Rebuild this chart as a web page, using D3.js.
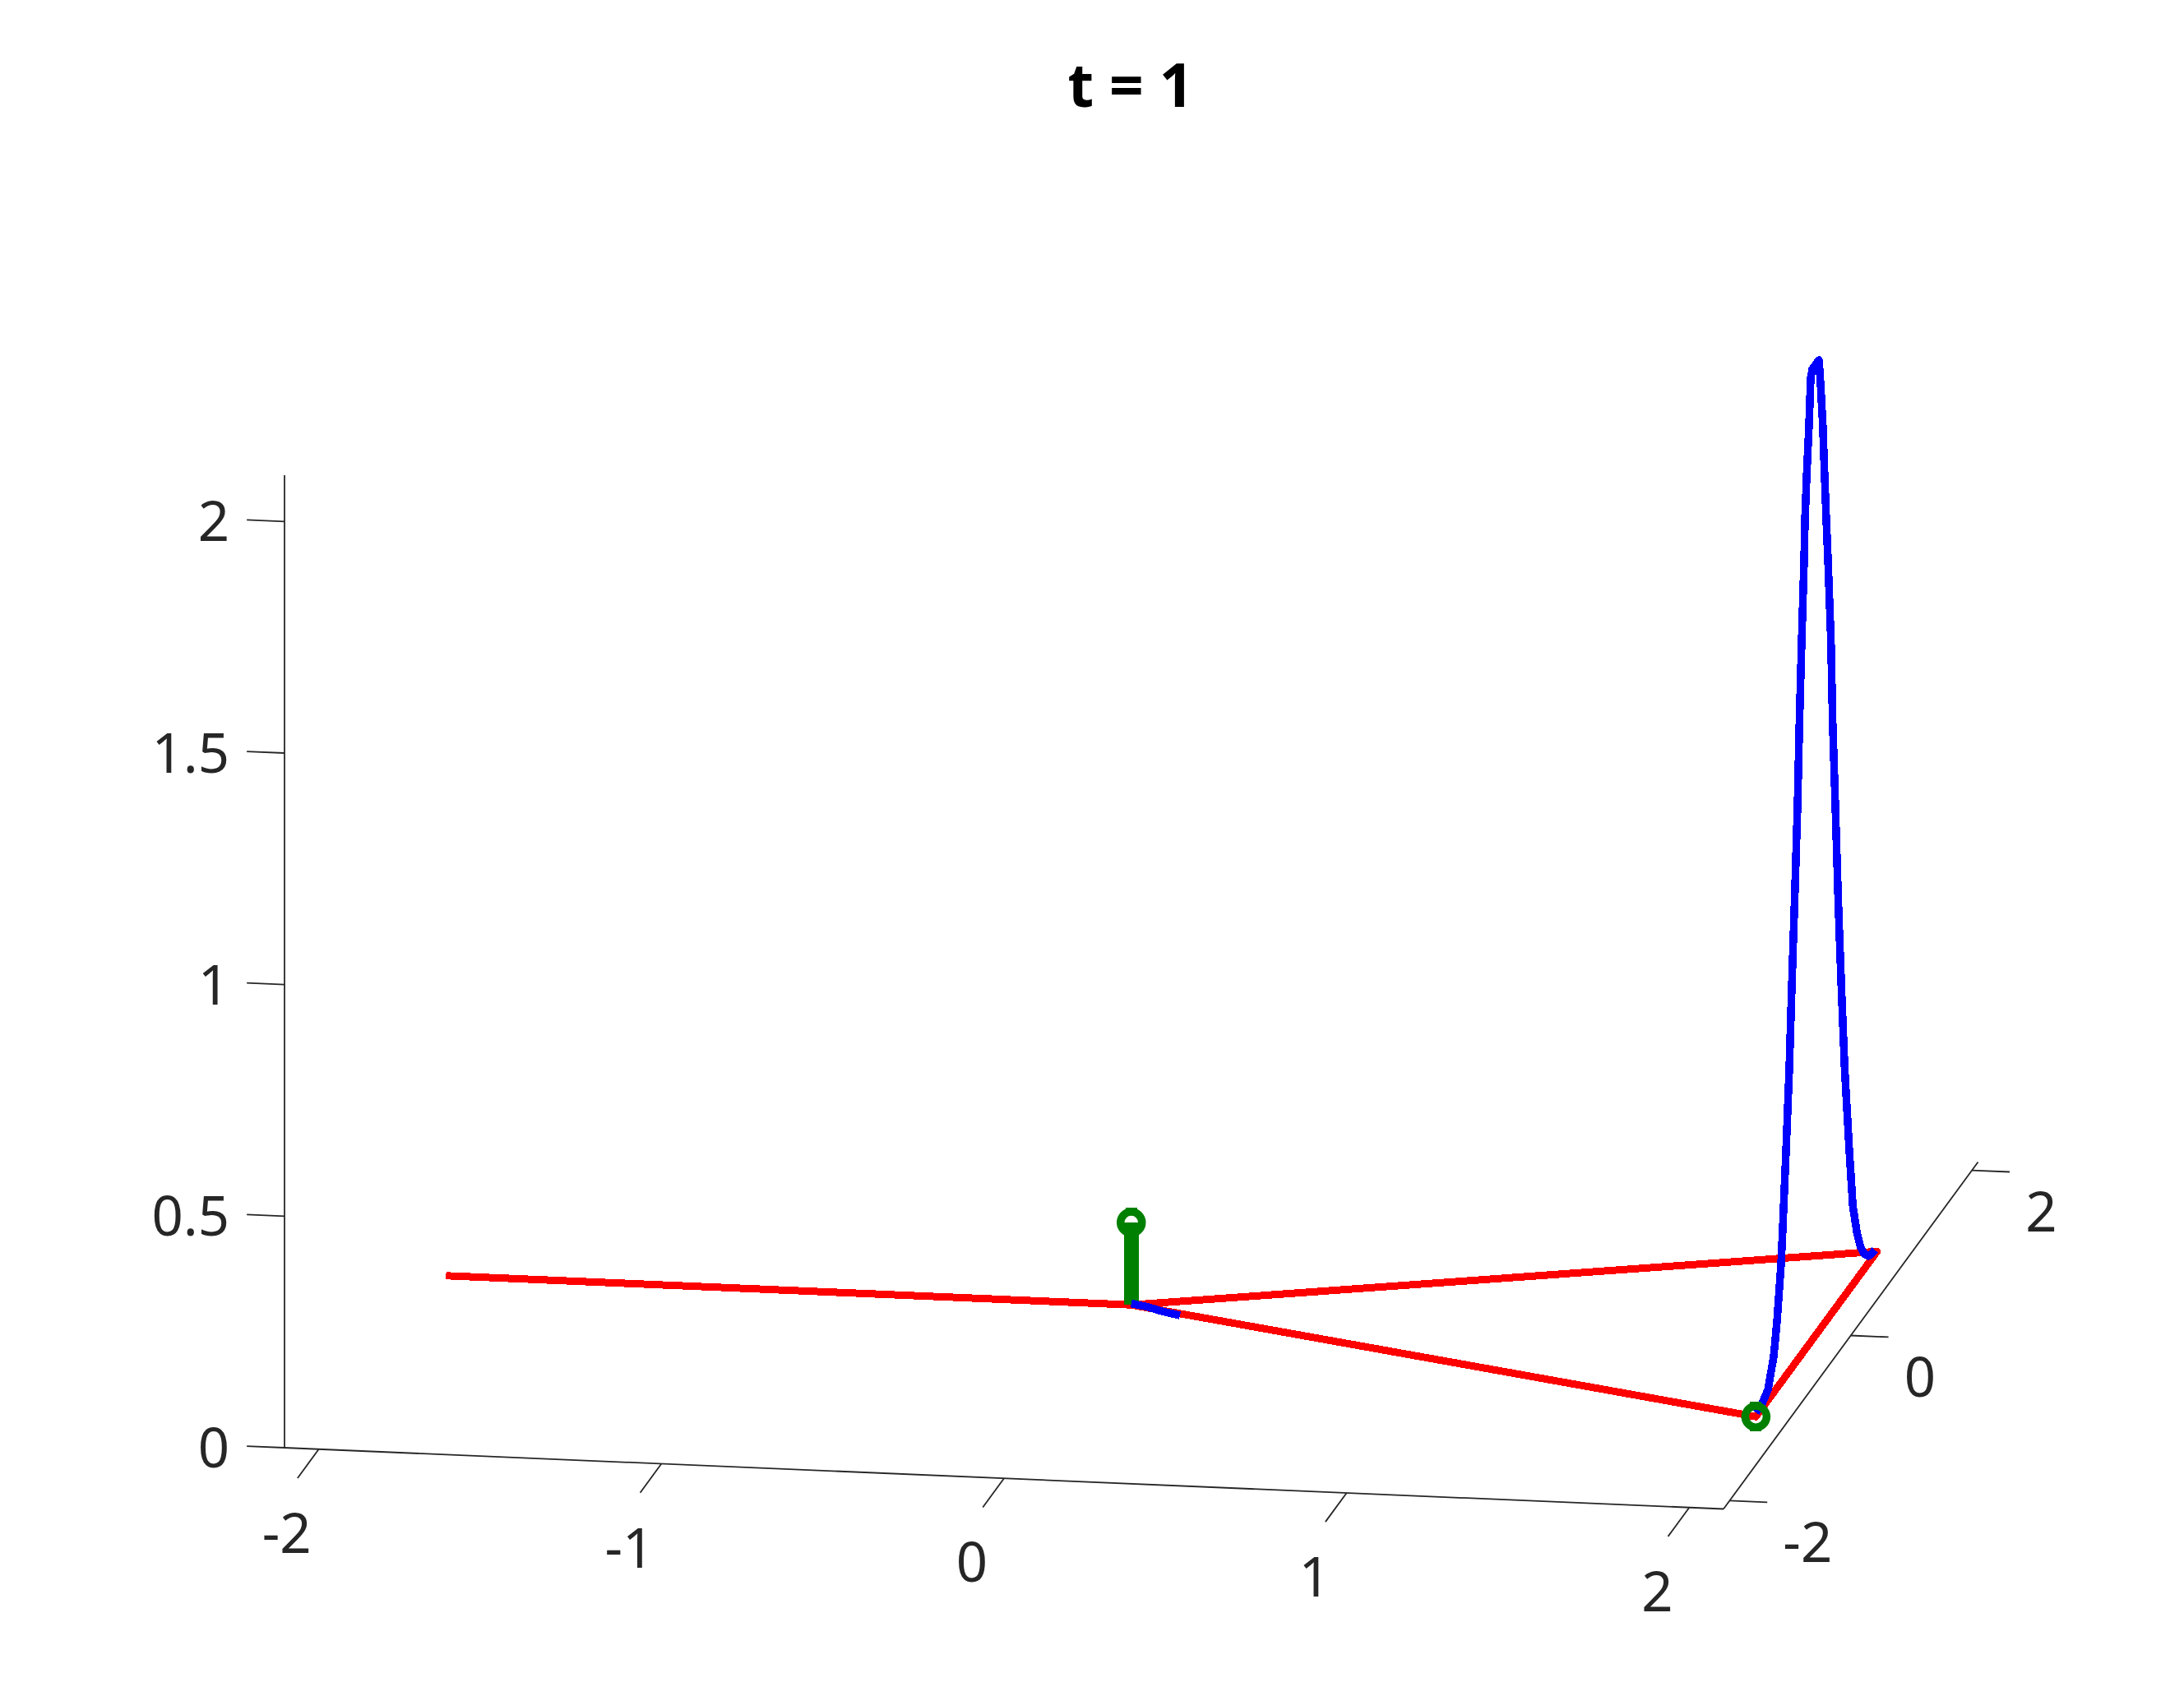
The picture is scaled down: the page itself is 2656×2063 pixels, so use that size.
<!DOCTYPE html>
<html>
<head>
<meta charset="utf-8">
<script src="https://cdn.jsdelivr.net/npm/d3@7"></script>
<style>
	html, body { margin: 0; padding: 0; background: #fff; }
	svg { display: block; }
	text { font-family: "Noto Sans", sans-serif; fill: #262626; }
</style>
</head>
<body>
<main></main>
<script>
// Data
const titleText = "t = 1";
const axisLimit = [-2.1, 2.1];
const zLimit = [0, 2.1];
const xTicks = [-2, -1, 0, 1, 2];
const yTicks = [-2, 0, 2];
const zTicks = [0, 0.5, 1, 1.5, 2];

// graph edges, each as [x, y] to [x, y]
const graphEdges = [
	[[-2, 0], [0, 0]],
	[[0, 0], [2, 1]],
	[[2, 1], [2, -1]],
	[[2, -1], [0, 0]],
];

// green stems at the nodes [x, y, height]
const stems = [[0, 0, 0.178], [2, -1, 0]];

// blue wave on the edge x = 2
const waveY = [-1, -0.896, -0.801, -0.706, -0.652, -0.584, -0.561, -0.503, -0.449, -0.408, -0.363, -0.313, -0.282, -0.245, -0.204, -0.191, -0.159, -0.123, -0.096, -0.069, 0.04, 0.067, 0.104, 0.131, 0.162, 0.189, 0.239, 0.267, 0.311, 0.359, 0.41, 0.465, 0.542, 0.6, 0.668, 0.728, 0.787, 0.855, 0.909, 0.963];
const waveZ = [0.009, 0.01, 0.023, 0.078, 0.144, 0.256, 0.318, 0.485, 0.653, 0.823, 0.993, 1.197, 1.369, 1.54, 1.71, 1.791, 1.892, 1.985, 2.081, 2.096, 2.096, 2.04, 1.944, 1.84, 1.728, 1.64, 1.453, 1.271, 1.085, 0.869, 0.677, 0.49, 0.298, 0.169, 0.099, 0.058, 0.033, 0.016, 0.011, 0.01];

// small part of the wave on the edge from the centre to (2, -1)
const tailX = [0, 0.05, 0.1, 0.156];
const tailY = [0, -0.025, -0.05, -0.078];
const tailZ = [0.003, 0.002, -0.002, -0.004];

// Create dimensions
const dimensions = { width: 2656, height: 2063, originX: 346, originY: 1761 };

// Draw canvas
const svg = d3.select("main")
	.append("svg")
		.attr("width", dimensions.width)
		.attr("height", dimensions.height);

// Create scales: each data axis moves the point across and up the screen
const xAcross = d3.scaleLinear().domain(axisLimit).range([0, 1750]);
const xDown = d3.scaleLinear().domain(axisLimit).range([0, 74.5]);
const yAcross = d3.scaleLinear().domain(axisLimit).range([0, 309.5]);
const yDown = d3.scaleLinear().domain(axisLimit).range([0, -422]);
const zDown = d3.scaleLinear().domain(zLimit).range([0, -1183]);

const project = (x, y, z) => [
	dimensions.originX + xAcross(x) + yAcross(y),
	dimensions.originY + xDown(x) + yDown(y) + zDown(z),
];

const line3d = d3.line().x(d => project(...d)[0]).y(d => project(...d)[1]);

// Draw peripherals
const [lo, hi] = axisLimit;
const axes = svg.append("g").attr("fill", "none").attr("stroke", "#262626").attr("stroke-width", 1.8);

const frame = [
	[[lo, lo, zLimit[0]], [lo, lo, zLimit[1]]],
	[[lo, lo, 0], [hi, lo, 0]],
	[[hi, lo, 0], [hi, hi, 0]],
];
const xTickLines = xTicks.map(t => [[t, lo, 0], [t, lo - 0.35, 0]]);
const yTickLines = yTicks.map(t => [[hi, t, 0], [hi + 0.11, t, 0]]);
const zTickLines = zTicks.map(t => [[lo, lo, t], [lo - 0.11, lo, t]]);

axes.selectAll("path")
	.data([...frame, ...xTickLines, ...yTickLines, ...zTickLines])
	.enter()
	.append("path")
	.attr("d", line3d);

const labelSize = 67;

svg.append("g").selectAll("text")
	.data(xTicks)
	.enter()
	.append("text")
	.attr("x", d => project(d, lo, 0)[0] - 39)
	.attr("y", d => project(d, lo, 0)[1] + 102)
	.attr("dy", "0.36em")
	.attr("text-anchor", "middle")
	.attr("font-size", labelSize)
	.text(d => d);

svg.append("g").selectAll("text")
	.data(yTicks)
	.enter()
	.append("text")
	.attr("x", d => project(hi, d, 0)[0] + 65)
	.attr("y", d => project(hi, d, 0)[1] + 50)
	.attr("dy", "0.36em")
	.attr("text-anchor", "start")
	.attr("font-size", labelSize)
	.text(d => d);

svg.append("g").selectAll("text")
	.data(zTicks)
	.enter()
	.append("text")
	.attr("x", 279)
	.attr("y", d => project(lo, lo, d)[1])
	.attr("dy", "0.36em")
	.attr("text-anchor", "end")
	.attr("font-size", labelSize)
	.text(d => d);

svg.append("text")
	.attr("x", 1375)
	.attr("y", 104)
	.attr("dy", "0.36em")
	.attr("text-anchor", "middle")
	.attr("font-size", 73)
	.attr("font-weight", "bold")
	.style("fill", "#000")
	.text(titleText);

// Draw data
const marks = svg.append("g").attr("fill", "none").attr("shape-rendering", "crispEdges");

marks.selectAll(".edge")
	.data(graphEdges.map(edge => edge.map(d => [d[0], d[1], 0])))
	.enter()
	.append("path")
	.attr("class", "edge")
	.attr("d", line3d)
	.attr("stroke", "#f00")
	.attr("stroke-width", 9)
	.attr("stroke-linecap", (d, i) => i === 0 ? "butt" : "round");

marks.selectAll(".stem")
	.data(stems.filter(d => d[2] > 0))
	.enter()
	.append("path")
	.attr("class", "stem")
	.attr("d", d => line3d([[d[0], d[1], 0], [d[0], d[1], d[2]]]))
	.attr("stroke", "#008000")
	.attr("stroke-width", 18);

const wavePoints = waveY.map((y, i) => [2, y, waveZ[i]]);
const tailPoints = tailX.map((x, i) => [x, tailY[i], tailZ[i]]);

marks.selectAll(".wave")
	.data([wavePoints, tailPoints])
	.enter()
	.append("path")
	.attr("class", "wave")
	.attr("d", line3d)
	.attr("stroke", "#00f")
	.attr("stroke-width", 9.5)
	.attr("stroke-linejoin", "round");

// ring markers on top of the stems
const rings = svg.append("g").attr("fill", "#008000");

rings.selectAll("circle")
	.data(stems)
	.enter()
	.append("circle")
	.attr("cx", d => project(...d)[0])
	.attr("cy", d => project(...d)[1])
	.attr("r", 13)
	.attr("fill", "none")
	.attr("stroke", "#008000")
	.attr("stroke-width", 9.5);

rings.selectAll(".bump-top")
	.data(stems)
	.enter()
	.append("rect")
	.attr("class", "bump-top")
	.attr("x", d => project(...d)[0] - 7)
	.attr("y", d => project(...d)[1] - 18)
	.attr("width", 14)
	.attr("height", 8)
	.attr("shape-rendering", "crispEdges");

rings.selectAll(".bump-bottom")
	.data(stems)
	.enter()
	.append("rect")
	.attr("class", "bump-bottom")
	.attr("x", d => project(...d)[0] - 7)
	.attr("y", d => project(...d)[1] + 10)
	.attr("width", 14)
	.attr("height", 8)
	.attr("shape-rendering", "crispEdges");
</script>
</body>
</html>
